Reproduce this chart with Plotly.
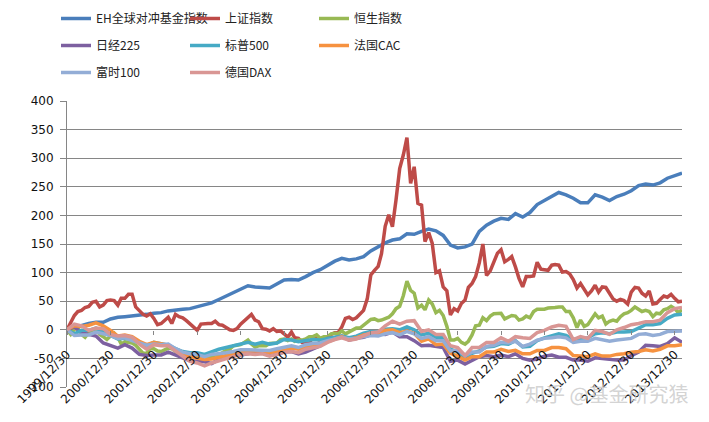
import plotly.graph_objects as go
import pandas as pd

# ---- categories ----
months = pd.date_range("1999-12-01", "2014-02-01", freq="MS").strftime("%Y-%m-%d").tolist()  # monthly, 171
months_bi = months[::2]  # every second month, 86

tick_dates = ["1999-12-01", "2000-12-01", "2001-12-01", "2002-12-01", "2003-12-01",
              "2004-12-01", "2005-12-01", "2006-12-01", "2007-12-01", "2008-12-01",
              "2009-12-01", "2010-12-01", "2011-12-01", "2012-12-01", "2013-12-01"]
tick_labels = ["1999/12/30", "2000/12/30", "2001/12/30", "2002/12/30", "2003/12/30",
               "2004/12/30", "2005/12/30", "2006/12/30", "2007/12/30", "2008/12/30",
               "2009/12/30", "2010/12/30", "2011/12/30", "2012/12/30", "2013/12/30"]
y_ticks = [-100, -50, 0, 50, 100, 150, 200, 250, 300, 350, 400]
y_labels = ["-100", "-50", "0", "50", "100", "150", "200", "250", "300", "350", "400"]

# ---- series (cumulative % change since 1999/12/30) ----
eh = [0, 4, 8, 11, 13, 13, 19, 22, 23, 24, 26, 27, 29, 30, 33, 35, 36, 37, 40, 43,
      47, 53, 59, 65, 71, 77, 75, 74, 73, 80, 87, 88, 87, 93, 100, 105, 112, 120, 125, 122,
      124, 128, 138, 145, 152, 157, 159, 168, 167, 172, 176, 173, 165, 148, 143, 145, 150, 172, 183, 190,
      195, 193, 203, 197, 205, 219, 226, 232, 240, 236, 230, 222, 222, 236, 232, 226, 233, 237, 243, 252,
      255, 253, 257, 265, 269, 274]

shanghai = [0, 12, 25, 32, 34, 39, 41, 48, 50, 40, 43, 51, 52,
            51, 43, 55, 55, 62, 62, 40, 34, 27, 24, 28, 20,
            9, 11, 17, 22, 11, 27, 23, 21, 16, 10, 5, -1,
            10, 11, 11, 11, 15, 9, 8, 4, 0, -1, 2, 10,
            16, 23, 27, 17, 14, 2, 1, -2, 2, -3, -2, -7,
            -13, -4, -14, -15, -22, -21, -21, -15, -15, -20, -20, -15,
            -8, -5, -5, 5, 20, 22, 18, 21, 28, 34, 54, 96,
            104, 111, 133, 181, 201, 180, 227, 282, 306, 336, 256, 285,
            221, 218, 154, 170, 151, 100, 103, 75, 68, 26, 37, 33,
            46, 52, 74, 81, 93, 117, 150, 95, 103, 119, 134, 140,
            119, 123, 128, 110, 90, 75, 93, 93, 94, 118, 106, 105,
            104, 113, 114, 113, 101, 102, 98, 88, 73, 81, 71, 61,
            68, 78, 66, 75, 74, 63, 54, 50, 53, 51, 45, 66,
            74, 73, 64, 59, 68, 45, 46, 53, 59, 57, 62, 55,
            49, 50]

hangseng = [0, -8, 1, 3, -8, -13, -5, -1, 1, -8, -12, -17, -11,
            -6, -13, -25, -21, -22, -23, -27, -35, -41, -41, -33, -33,
            -37, -38, -35, -32, -33, -38, -40, -41, -47, -44, -41, -45,
            -45, -46, -49, -49, -44, -44, -40, -36, -34, -28, -27, -26,
            -22, -18, -25, -30, -28, -28, -28, -24, -23, -23, -17, -16,
            -19, -16, -20, -18, -18, -16, -12, -12, -9, -15, -12, -12,
            -7, -6, -7, -2, -7, -4, 0, 3, 3, 8, 12, 18,
            19, 16, 17, 20, 22, 28, 37, 41, 60, 85, 69, 64,
            38, 43, 35, 52, 45, 30, 34, 25, 6, -18, -18, -15,
            -22, -25, -20, -9, 7, 8, 21, 16, 24, 28, 29, 29,
            19, 22, 25, 24, 17, 19, 24, 21, 32, 36, 36, 36,
            38, 38, 39, 40, 40, 32, 32, 21, 4, 17, 6, 9,
            20, 28, 21, 24, 10, 15, 17, 15, 23, 28, 30, 34,
            40, 36, 32, 34, 32, 23, 29, 28, 35, 37, 41, 37,
            30, 35]

nikkei = [0, 5, -5, -8, -11, -23, -27, -32, -26, -32, -43, -45, -44,
          -44, -39, -44, -49, -54, -55, -56, -59, -52, -45, -44, -44,
          -42, -38, -37, -41, -43, -39, -38, -42, -39, -34, -28, -15,
          -14, -11, -18, -15, -13, -9, -7, -8, -4, -12, -12, -19,
          -28, -27, -29, -31, -55, -53, -60, -53, -47, -45, -47, -44,
          -47, -42, -50, -53, -51, -46, -44, -48, -48, -53, -53, -55,
          -49, -50, -52, -53, -53, -45, -39, -27, -28, -29, -24, -14,
          -22]

sp500 = [0, -7, -1, -1, 3, -3, -10, -16, -15, -17, -23, -28, -22,
         -25, -27, -33, -38, -40, -40, -43, -38, -34, -31, -28, -24,
         -22, -25, -22, -25, -23, -17, -18, -21, -19, -17, -18, -15,
         -13, -11, -14, -11, -6, -3, -4, 1, 2, 0, 5, 0,
         -9, -6, -13, -13, -34, -39, -50, -41, -37, -30, -29, -24,
         -25, -19, -30, -29, -19, -14, -10, -7, -10, -17, -15, -14,
         -7, -5, -7, -4, -4, -3, 3, 9, 9, 11, 20, 26,
         27]

cac = [0, 7, 6, 8, 12, 7, -1, -11, -9, -12, -20, -26, -22,
       -25, -27, -35, -44, -47, -49, -52, -51, -48, -45, -43, -40,
       -37, -37, -37, -40, -38, -36, -32, -34, -29, -27, -26, -21,
       -16, -12, -17, -14, -9, -7, -8, -1, 0, -5, -2, -6,
       -20, -16, -26, -25, -41, -46, -53, -47, -47, -39, -39, -34,
       -38, -36, -42, -42, -36, -36, -31, -31, -33, -45, -46, -47,
       -42, -46, -46, -43, -42, -39, -38, -35, -37, -34, -28, -28,
       -26]

ftse = [0, -10, -9, -9, -4, -7, -10, -15, -14, -19, -23, -27, -25,
        -26, -25, -33, -39, -42, -43, -47, -43, -42, -40, -38, -35,
        -35, -35, -36, -36, -33, -31, -28, -31, -26, -24, -23, -19,
        -16, -13, -16, -15, -12, -10, -11, -7, -5, -9, -3, -7,
        -15, -12, -19, -19, -37, -36, -45, -39, -39, -29, -27, -22,
        -23, -20, -29, -25, -18, -15, -14, -12, -14, -22, -20, -20,
        -15, -17, -20, -18, -17, -15, -8, -7, -10, -8, -3, -3,
        -2]

dax = [0, 10, 7, -1, 3, 2, -8, -11, -10, -13, -25, -34, -26,
       -28, -28, -37, -47, -55, -58, -63, -58, -54, -50, -47, -43,
       -42, -43, -42, -46, -43, -39, -38, -40, -34, -31, -29, -22,
       -17, -14, -18, -16, -10, -5, -4, 7, 15, 10, 15, 16,
       -3, 0, -8, -8, -28, -31, -45, -31, -31, -22, -22, -14,
       -20, -12, -14, -15, -5, -1, 5, 8, 6, -17, -12, -15,
       -1, -3, -8, 0, 4, 9, 11, 14, 14, 17, 30, 37,
       39]

# (name, x, y, colour, legend column)
series = [
    ("EH全球对冲基金指数", months_bi, eh, "#4A7EBB", "legend"),
    ("上证指数", months, shanghai, "#BE4B48", "legend2"),
    ("恒生指数", months, hangseng, "#98B954", "legend3"),
    ("日经225", months_bi, nikkei, "#7D60A0", "legend"),
    ("标普500", months_bi, sp500, "#46AAC5", "legend2"),
    ("法国CAC", months_bi, cac, "#F69240", "legend3"),
    ("富时100", months_bi, ftse, "#93ADD6", "legend"),
    ("德国DAX", months_bi, dax, "#D99694", "legend2"),
]

fig = go.Figure()
for name, xs, ys, color, lg in series:
    fig.add_trace(go.Scatter(x=xs, y=ys, name=name, mode="lines",
                             line=dict(color=color, width=3.5),
                             legend=lg, legendgroup=name, hoverinfo="skip"))

# the page body adds an 8px offset, so the figure is 8px smaller
W, H = 701, 414
ML, MR, MT, MB = 59, 27, 93, 35
plot_w = W - ML - MR
plot_h = H - MT - MB
grid = "#868686"


def py(pix):
    # page pixel row -> paper y
    return (387 - pix) / plot_h


def px(pix):
    # page pixel column -> paper x
    return (pix - 67) / plot_w


leg_font = dict(family="Noto Sans CJK SC", size=12, color="#222222")
leg_common = dict(orientation="v", xref="paper", yref="paper",
                  xanchor="left", yanchor="top",
                  font=leg_font, bgcolor="rgba(0,0,0,0)", borderwidth=0,
                  traceorder="grouped", tracegroupgap=8, itemwidth=30)
legend_top = py(4)

fig.update_layout(
    width=W, height=H,
    margin=dict(l=ML, r=MR, t=MT, b=MB, autoexpand=False),
    paper_bgcolor="white", plot_bgcolor="white",
    showlegend=True,
    legend=dict(x=px(56), y=legend_top, **leg_common),
    legend2=dict(x=px(185), y=legend_top, **leg_common),
    legend3=dict(x=px(314), y=legend_top, **leg_common),
    xaxis=dict(type="date", range=[months[0], months[-1]],
               anchor="free", position=0.2,
               showgrid=False, showline=False, zeroline=False,
               ticks="outside", ticklen=4, tickcolor=grid, tickwidth=1,
               tickmode="array", tickvals=tick_dates, ticktext=tick_labels,
               tickangle=-45, ticklabelstandoff=8,
               tickfont=dict(family="DejaVu Sans", size=12, color="#111111"),
               automargin=False),
    yaxis=dict(range=[-100, 400], tickmode="array", tickvals=y_ticks, ticktext=y_labels,
               showgrid=True, gridcolor=grid, gridwidth=1,
               showline=True, linecolor=grid, linewidth=1,
               ticks="outside", ticklen=6, tickcolor=grid,
               zeroline=False, ticklabelstandoff=4,
               tickfont=dict(family="DejaVu Sans", size=12, color="#111111"),
               automargin=False),
    annotations=[dict(text="知乎 @基金研究猿", x=px(606), y=py(394),
                      xref="paper", yref="paper", xanchor="center", yanchor="middle",
                      showarrow=False,
                      font=dict(family="Noto Sans CJK SC", size=20,
                                color="rgba(200,200,200,0.8)"))],
)

fig.write_html("out.html")
